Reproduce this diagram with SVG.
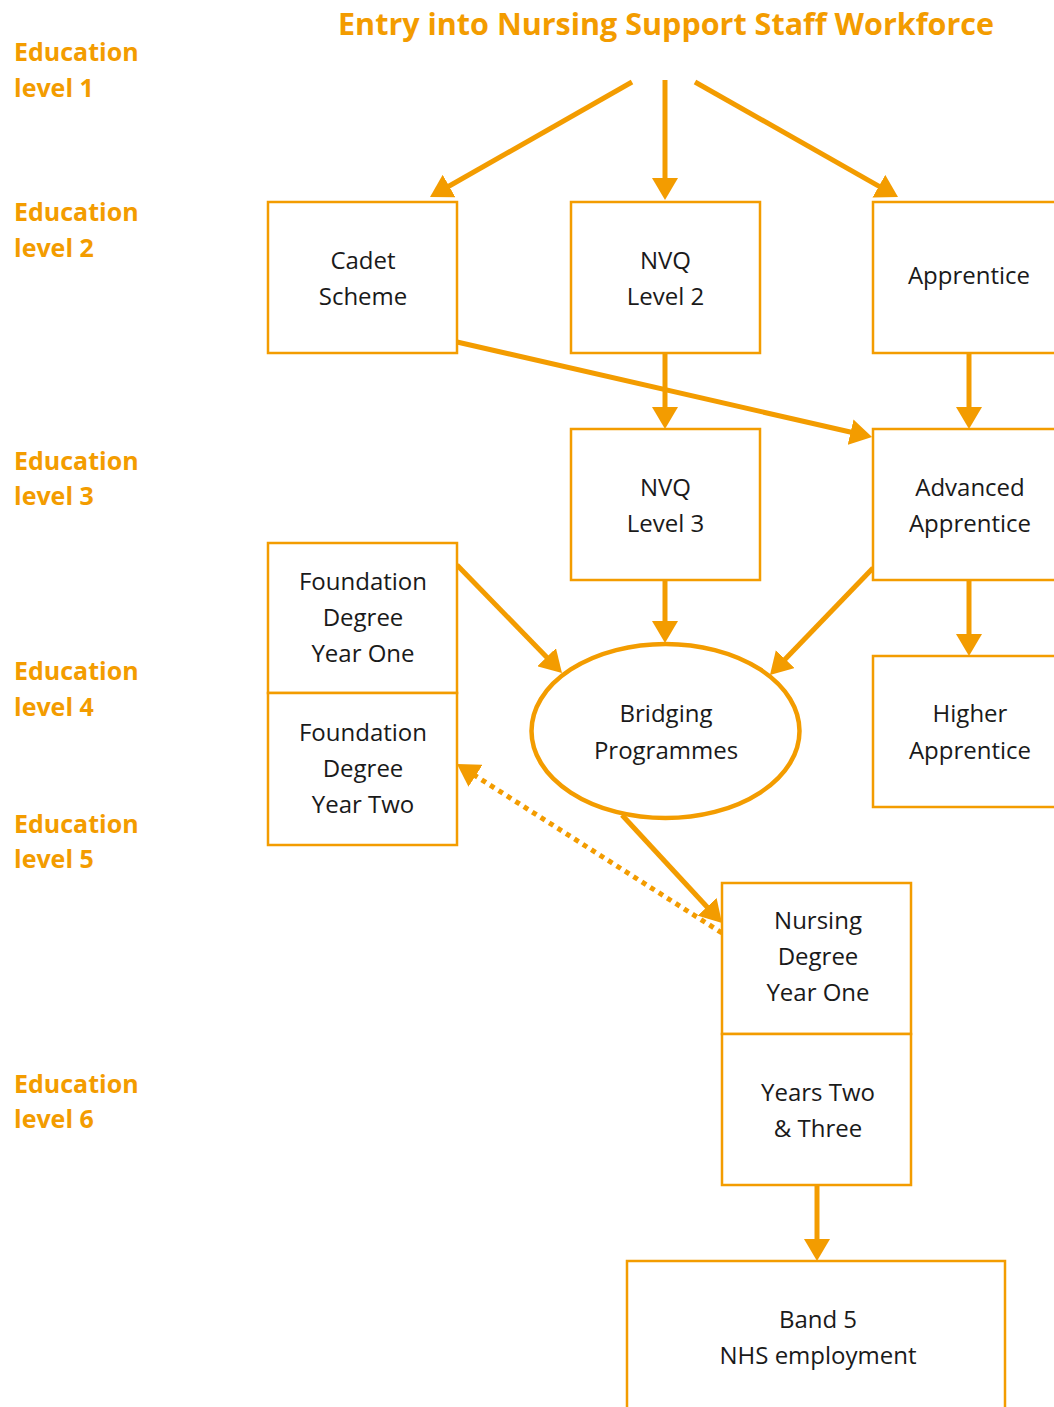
<svg xmlns="http://www.w3.org/2000/svg" width="1054" height="1407" viewBox="0 0 1054 1407">
<defs>
<style>
.box{fill:#fff;stroke:#F39C00;stroke-width:2.5}
.ell{fill:#fff;stroke:#F39C00;stroke-width:4.5}
.t{font-family:"Open Sans","Noto Sans","Liberation Sans",sans-serif;font-size:24px;fill:#1a1a1a;text-anchor:middle}
.lvl{font-family:"Open Sans","Noto Sans","Liberation Sans",sans-serif;font-size:25px;font-weight:bold;fill:#F39C00}
.title{font-family:"Open Sans","Noto Sans","Liberation Sans",sans-serif;font-size:30.5px;font-weight:bold;fill:#F39C00;text-anchor:middle}
.c{stroke:#F39C00;stroke-width:5;fill:none;marker-end:url(#ah)}
.d{stroke:#F39C00;stroke-width:5;fill:none;stroke-dasharray:5 5;marker-end:url(#ah)}
</style>
<marker id="ah" markerUnits="userSpaceOnUse" markerWidth="22" markerHeight="26" refX="12" refY="13" orient="auto" viewBox="0 0 22 26">
<path d="M0,0 L22,13 L0,26 z" fill="#F39C00"/>
</marker>
</defs>
<rect width="1054" height="1407" fill="#fff"/>
<text class="title" x="666" y="35">Entry into Nursing Support Staff Workforce</text>
<g id="levels">
<text class="lvl" x="14" y="61">Education</text><text class="lvl" x="14" y="97">level 1</text>
<text class="lvl" x="14" y="221">Education</text><text class="lvl" x="14" y="257">level 2</text>
<text class="lvl" x="14" y="470">Education</text><text class="lvl" x="14" y="505">level 3</text>
<text class="lvl" x="14" y="680">Education</text><text class="lvl" x="14" y="716">level 4</text>
<text class="lvl" x="14" y="833">Education</text><text class="lvl" x="14" y="868">level 5</text>
<text class="lvl" x="14" y="1093">Education</text><text class="lvl" x="14" y="1128">level 6</text>
</g>
<g id="connectors">
<line class="c" x1="632" y1="82" x2="438.7" y2="192"/>
<line class="c" x1="665" y1="80" x2="665" y2="190"/>
<line class="c" x1="695" y1="82" x2="889.3" y2="192.1"/>
<line class="c" x1="457" y1="342" x2="862.3" y2="434.8"/>
<line class="c" x1="665" y1="353" x2="665" y2="419"/>
<line class="c" x1="969" y1="353" x2="969" y2="419"/>
<line class="c" x1="969" y1="580" x2="969" y2="646"/>
<line class="c" x1="665" y1="580" x2="665" y2="633"/>
<line class="c" x1="457" y1="565" x2="555" y2="665.8"/>
<line class="c" x1="873" y1="568" x2="776.9" y2="667.8"/>
<line class="c" x1="622" y1="815" x2="715.2" y2="915.7"/>
<line class="c" x1="817" y1="1185" x2="817" y2="1251"/>
<line class="d" x1="722" y1="933" x2="465.4" y2="769.4"/>
</g>
<g id="cadet"><rect class="box" x="268" y="202" width="189" height="151"/><text class="t" x="363" y="269">Cadet</text><text class="t" x="363" y="305">Scheme</text></g>
<g id="nvq2"><rect class="box" x="571" y="202" width="189" height="151"/><text class="t" x="665.5" y="269">NVQ</text><text class="t" x="665.5" y="305">Level 2</text></g>
<g id="apprentice"><rect class="box" x="873" y="202" width="200" height="151"/><text class="t" x="969" y="284">Apprentice</text></g>
<g id="nvq3"><rect class="box" x="571" y="429" width="189" height="151"/><text class="t" x="665.5" y="496">NVQ</text><text class="t" x="665.5" y="532">Level 3</text></g>
<g id="advanced"><rect class="box" x="873" y="429" width="200" height="151"/><text class="t" x="970" y="496">Advanced</text><text class="t" x="970" y="532">Apprentice</text></g>
<g id="higher"><rect class="box" x="873" y="656" width="200" height="151"/><text class="t" x="970" y="722">Higher</text><text class="t" x="970" y="759">Apprentice</text></g>
<g id="fd1"><rect class="box" x="268" y="543" width="189" height="150"/><text class="t" x="363" y="590">Foundation</text><text class="t" x="363" y="626">Degree</text><text class="t" x="363" y="662">Year One</text></g>
<g id="fd2"><rect class="box" x="268" y="693" width="189" height="152"/><text class="t" x="363" y="741">Foundation</text><text class="t" x="363" y="777">Degree</text><text class="t" x="363" y="813">Year Two</text></g>
<g id="bridging"><ellipse class="ell" cx="665.5" cy="731" rx="134" ry="87"/><text class="t" x="666" y="722">Bridging</text><text class="t" x="666" y="759">Programmes</text></g>
<g id="nd1"><rect class="box" x="722" y="883" width="189" height="151"/><text class="t" x="818" y="929">Nursing</text><text class="t" x="818" y="965">Degree</text><text class="t" x="818" y="1001">Year One</text></g>
<g id="nd23"><rect class="box" x="722" y="1034" width="189" height="151"/><text class="t" x="818" y="1101">Years Two</text><text class="t" x="818" y="1137">&amp; Three</text></g>
<g id="band5"><rect class="box" x="627" y="1261" width="378" height="170"/><text class="t" x="818" y="1328">Band 5</text><text class="t" x="818" y="1364">NHS employment</text></g>
</svg>
